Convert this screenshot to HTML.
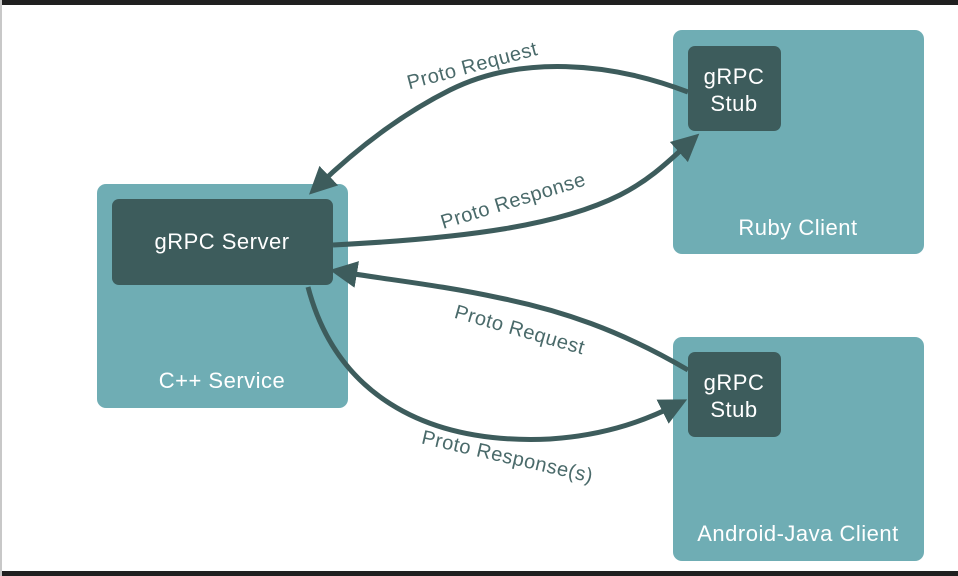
<!DOCTYPE html>
<html><head><style>
body{margin:0;background:#fff;}
svg{display:block;font-family:"Liberation Sans",sans-serif;}
</style></head><body>
<svg width="958" height="576" viewBox="0 0 958 576">
<rect x="0" y="0" width="958" height="576" fill="#fff"/>
<rect x="0" y="0" width="958" height="5" fill="#202020"/>
<rect x="0" y="571" width="958" height="5" fill="#202020"/>
<rect x="0" y="0" width="2" height="576" fill="#c8c8c8"/>
<defs><marker id="a" markerWidth="6" markerHeight="6" refX="3" refY="3" orient="auto" markerUnits="strokeWidth"><path d="M0,0.3 L5.5,3 L0,5.7 z" fill="#3d5c5c"/></marker></defs>
<rect x="97" y="184" width="251" height="224" rx="9" fill="#6fadb4"/>
<rect x="673" y="30" width="251" height="224" rx="9" fill="#6fadb4"/>
<rect x="673" y="337" width="251" height="224" rx="9" fill="#6fadb4"/>
<rect x="112" y="199" width="221" height="86" rx="7" fill="#3d5c5c"/>
<rect x="688" y="46" width="93" height="85" rx="7" fill="#3d5c5c"/>
<rect x="688" y="352" width="93" height="85" rx="7" fill="#3d5c5c"/>
<g fill="none" stroke="#3d5c5c" stroke-width="5">
<path d="M688,92 C610,62 520,55 450,90 C390,120 345,160 318,186" marker-end="url(#a)"/>
<path d="M333,245 C470,238 560,225 620,195 C650,180 670,160 690,142" marker-end="url(#a)"/>
<path d="M688,370 C620,330 560,310 500,298 C440,285 390,280 342,272" marker-end="url(#a)"/>
<path d="M308,287 C335,390 420,445 550,439 C610,435 650,418 676,405" marker-end="url(#a)"/>
</g>
<g fill="#fff" font-size="22" text-anchor="middle" letter-spacing="0.5">
<text x="222" y="249">gRPC Server</text>
<text x="222" y="388">C++ Service</text>
<text x="734" y="84">gRPC</text><text x="734" y="111">Stub</text>
<text x="734" y="390">gRPC</text><text x="734" y="417">Stub</text>
<text x="798" y="235">Ruby Client</text>
<text x="798" y="541">Android-Java Client</text>
</g>
<g fill="#4a6a6a" font-size="20" text-anchor="middle" letter-spacing="0.5">
<text transform="translate(474,72) rotate(-15)">Proto Request</text>
<text transform="translate(515,207) rotate(-17)">Proto Response</text>
<text transform="translate(518,336) rotate(16)">Proto Request</text>
<text transform="translate(506,463) rotate(13)">Proto Response(s)</text>
</g>
</svg>
</body></html>
